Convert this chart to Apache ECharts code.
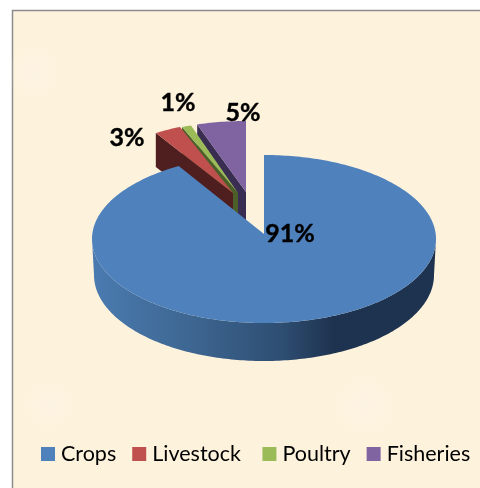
<!DOCTYPE html>
<html>
<head>
<meta charset="utf-8">
<style>
    html, body { margin: 0; padding: 0; background: #fff; }
    #main { width: 480px; height: 488px; }
</style>
<script src="https://cdn.jsdelivr.net/npm/echarts@6/dist/echarts.min.js"></script>
</head>
<body>
<div id="main"></div>
<script>
// data
const categories = ['Crops', 'Livestock', 'Poultry', 'Fisheries'];
const values = [91, 3, 1, 5];

const colors = ['#4F81BD', '#C0504D', '#9BBB59', '#8064A2'];
const wallColors = ['#1E3350', '#4F1F1F', '#4C5F29', '#3A2D52'];

// pie drawing settings, apex = where the slice tip sits
// backSqueeze bends the angles on the far half, as the 3d view does
const shapes = [
    { apex: [264, 234], cx: 264, cy: 239, rx: 172, ry: 84, backSqueeze: 0.9, label: [290, 234] },
    { apex: [233, 193], cx: 233, cy: 193, rx: 144, ry: 71, backSqueeze: 1, label: [127, 138] },
    { apex: [238, 193], cx: 238, cy: 193, rx: 152, ry: 71, backSqueeze: 1, label: [178, 103] },
    { apex: [246, 192], cx: 246, cy: 192, rx: 158, ry: 71, backSqueeze: 1, label: [243, 113] }
];
const sideDepth = 36;
const wallDepth = 34;
// z order, crops sits in front of the exploded slices
const zOrder = [5, 4, 3, 2];

// pale blotches of the paper background
const patches = [[35, 72, 28], [50, 405, 26], [365, 405, 32]];

const total = values.reduce((a, b) => a + b, 0);

function bendAngle(s, deg) {
    if (deg > 90 && deg < 270) {
        return deg;
    }
    const t = Math.atan(s.backSqueeze * Math.tan(deg * Math.PI / 180)) * 180 / Math.PI;
    return deg > 270 ? 360 + t : t;
}

function rimPoint(s, deg, dy, shrink) {
    const r = deg * Math.PI / 180;
    return [
        s.cx + (s.rx - (shrink || 0)) * Math.sin(r),
        s.cy + (dy || 0) - (s.ry + (dy ? 2 : 0)) * Math.cos(r)
    ];
}

function arc(s, from, to, dy, shrink) {
    const pts = [];
    const step = to >= from ? 1 : -1;
    for (let d = from; step > 0 ? d < to : d > to; d += step) {
        pts.push(rimPoint(s, d, dy, shrink));
    }
    pts.push(rimPoint(s, to, dy, shrink));
    return pts;
}

function renderSlice(idx) {
    return function (params, api) {
        const value = api.value(0);
        const before = values.slice(0, idx).reduce((a, b) => a + b, 0);
        const s = shapes[idx];
        const start = bendAngle(s, before / total * 360);
        const end = bendAngle(s, (before + value) / total * 360);
        const children = [];

        if (idx === 0) {
            // outer side of the big slice, front half only
            const from = Math.max(start, 90);
            const to = Math.min(end, 270);
            children.push({
                type: 'polygon',
                shape: { points: arc(s, from, to, 0).concat(arc(s, to, from, sideDepth, 2)) },
                style: {
                    fill: {
                        type: 'linear', x: 0, y: 0, x2: 1, y2: 0,
                        colorStops: [
                            { offset: 0, color: '#4A7BB0' },
                            { offset: 0.3, color: '#3D6590' },
                            { offset: 0.55, color: '#2E4E72' },
                            { offset: 0.7, color: '#1E3350' },
                            { offset: 1, color: '#1E3350' }
                        ]
                    }
                }
            });
        } else {
            // cut wall on the left of an exploded slice
            const rim = rimPoint(s, start);
            children.push({
                type: 'polygon',
                shape: {
                    points: [
                        rim, s.apex,
                        [s.apex[0], s.apex[1] + wallDepth],
                        [rim[0], rim[1] + wallDepth]
                    ]
                },
                style: { fill: wallColors[idx] }
            });
        }

        children.push({
            type: 'polygon',
            shape: { points: [s.apex].concat(arc(s, start, end)) },
            style: { fill: colors[idx] }
        });

        children.push({
            type: 'text',
            x: s.label[0],
            y: s.label[1],
            z2: 10,
            style: {
                text: Math.round(value / total * 100) + '%',
                font: 'bold 25px Lato, "Open Sans", sans-serif',
                fill: '#000',
                stroke: '#000',
                lineWidth: 0.4,
                align: 'center',
                verticalAlign: 'middle'
            }
        });

        return { type: 'group', children: children };
    };
}

const myChart = echarts.init(document.getElementById('main'), null, { renderer: 'canvas' });

const paperPatches = patches.map(p => ({
    type: 'circle',
    z: -1,
    shape: { cx: p[0], cy: p[1], r: p[2] },
    style: {
        fill: {
            type: 'radial', x: 0.5, y: 0.5, r: 0.5,
            colorStops: [
                { offset: 0, color: 'rgba(255,246,238,0.4)' },
                { offset: 1, color: 'rgba(255,246,238,0)' }
            ]
        }
    }
}));

myChart.setOption({
    animation: false,
    backgroundColor: '#ffffff',
    color: colors,
    graphic: [
        {
            type: 'rect',
            z: -2,
            shape: { x: 12.5, y: 10.5, width: 480, height: 490 },
            style: { fill: '#FDF2DC', stroke: '#8C8C8C', lineWidth: 1.5 }
        }
    ].concat(paperPatches),
    legend: {
        data: categories,
        left: 41,
        top: 443,
        padding: 0,
        icon: 'rect',
        itemWidth: 14,
        itemHeight: 14,
        itemGap: 16,
        formatter: name => (name === 'Livestock' ? name + ' ' : name),
        textStyle: {
            fontFamily: 'Lato, "Open Sans", sans-serif',
            fontSize: 21.5,
            color: '#000',
            padding: [0, 0, 0, 1]
        }
    },
    series: categories.map((name, i) => ({
        type: 'custom',
        name: name,
        coordinateSystem: 'none',
        z: zOrder[i],
        itemStyle: { color: colors[i] },
        data: [[values[i]]],
        renderItem: renderSlice(i)
    }))
});
</script>
</body>
</html>
